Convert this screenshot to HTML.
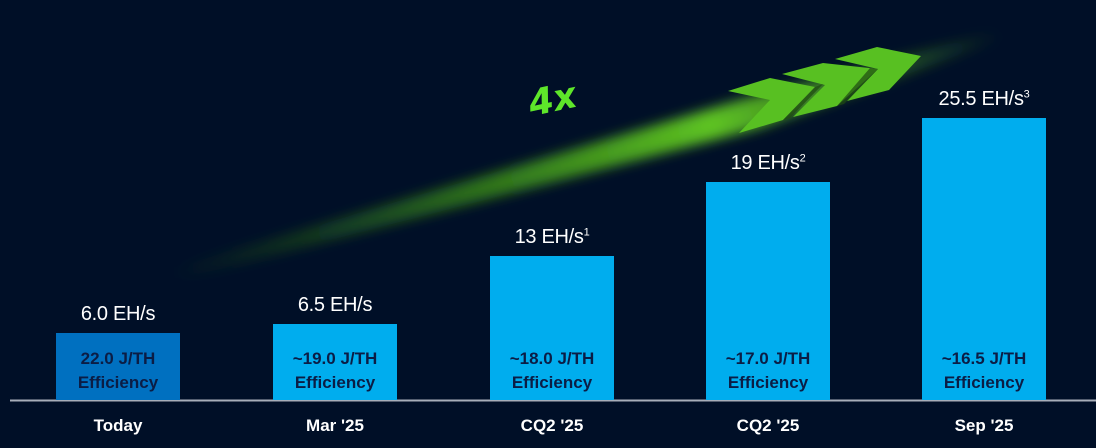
<!DOCTYPE html>
<html><head><style>
body{margin:0;background:#000f27;width:1096px;height:448px;overflow:hidden;font-family:"Liberation Sans",sans-serif;position:relative}
.bar{position:absolute;width:124px;bottom:48px;background:#00adee}
.v{position:absolute;width:200px;text-align:center;color:#fff;font-size:20px;letter-spacing:-0.3px}
.v sup{font-size:11px}
.in{position:absolute;left:0;right:0;bottom:5px;text-align:center;color:#0b1d45;font-weight:bold;font-size:17px;line-height:24px}
.x{position:absolute;top:416px;width:200px;text-align:center;color:#fff;font-weight:bold;font-size:17px}
</style></head><body>
<svg width="1096" height="448" style="position:absolute;left:0;top:0">
<defs>
<linearGradient id="g" x1="170" y1="270" x2="1000" y2="35" gradientUnits="userSpaceOnUse">
<stop offset="0" stop-color="#3a8a10" stop-opacity="0"/>
<stop offset="0.35" stop-color="#47a814" stop-opacity="0.6"/>
<stop offset="0.65" stop-color="#5ec322" stop-opacity="1"/>
<stop offset="1" stop-color="#5ec322" stop-opacity="0"/>
</linearGradient>
<filter id="b"><feGaussianBlur stdDeviation="6"/></filter>
</defs>
<polygon points="160,272 740,100 1000,30 1000,40 760,128 170,282" fill="url(#g)" filter="url(#b)"/>
<g fill="#58c022">
<polygon points="728,91 770,78 815,87 783,120 739,133 770,100"/>
<polygon points="782,74 823,63 878,69 837,106 793,117 825,85"/>
<polygon points="835,59 877,47 921,56 889,90 847,101 878,69"/>
</g>
<g fill="#1f4a12" opacity="0.7">
<polygon points="815,87 823,84 790,118 783,120"/>
<polygon points="870,68 878,69 844,104 837,106"/>
</g>
<text x="528" y="112" fill="#5ee62a" font-size="36" font-weight="bold" font-style="italic" transform="rotate(-12 550 98)" font-family="DejaVu Sans">4x</text>
<line x1="10" y1="400.5" x2="1096" y2="400.5" stroke="#a7aeb9" stroke-width="2"/>
</svg>
<div class="bar" style="left:56px;top:333px;background:#0070c0"><div class="in">22.0 J/TH<br>Efficiency</div></div>
<div class="bar" style="left:273px;top:324px"><div class="in">~19.0 J/TH<br>Efficiency</div></div>
<div class="bar" style="left:490px;top:256px"><div class="in">~18.0 J/TH<br>Efficiency</div></div>
<div class="bar" style="left:706px;top:182px"><div class="in">~17.0 J/TH<br>Efficiency</div></div>
<div class="bar" style="left:922px;top:118px"><div class="in">~16.5 J/TH<br>Efficiency</div></div>
<div class="v" style="left:18px;top:303px">6.0 EH/s</div>
<div class="v" style="left:235px;top:294px">6.5 EH/s</div>
<div class="v" style="left:452px;top:226px">13 EH/s<sup>1</sup></div>
<div class="v" style="left:668px;top:152px">19 EH/s<sup>2</sup></div>
<div class="v" style="left:884px;top:88px">25.5 EH/s<sup>3</sup></div>
<div class="x" style="left:18px">Today</div>
<div class="x" style="left:235px">Mar '25</div>
<div class="x" style="left:452px">CQ2 '25</div>
<div class="x" style="left:668px">CQ2 '25</div>
<div class="x" style="left:884px">Sep '25</div>
</body></html>
